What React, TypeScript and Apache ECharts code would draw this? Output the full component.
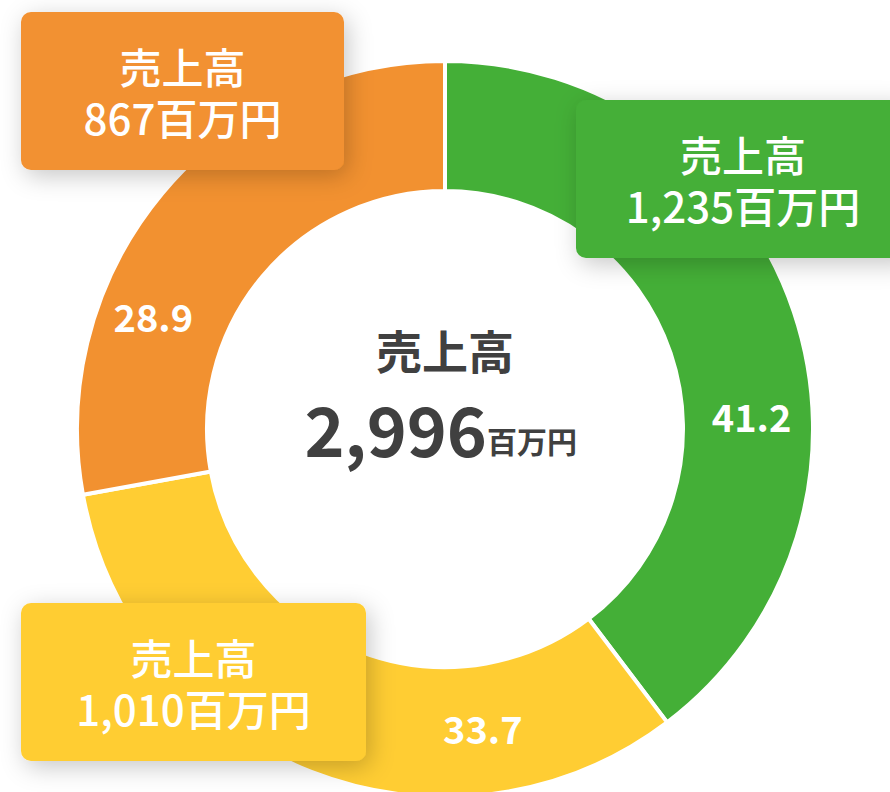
import React, { useEffect, useRef } from 'react';
import * as echarts from 'echarts';

// ---- data ----
const segmentNames = ['売上高', '売上高', '売上高'];
const salesValues = [1235, 1010, 867];
const sharePercents = [41.2, 33.7, 28.9];
const totalSales = 2996;
const centerTitle = '売上高';
const unitLabel = '百万円';

// ---- styles / layout ----
const colors = ['#44AF37', '#FFCD33', '#F29130'];
const FONT = '"Noto Sans CJK JP", "Noto Sans", sans-serif';
const CX = 445;
const CY = 429;
const R_IN = 238;
const R_OUT = 368;
const labelAngles = [87.6, 172.5, 291];
const labelRadii = [304, 298, 310];
const boxes = [
  { x: 576, y: 100, w: 334, h: 158 },
  { x: 21, y: 603, w: 345, h: 158 },
  { x: 21, y: 12, w: 323, h: 158 },
];

const fmt = (v: number) => v.toLocaleString('en-US');

export default function App() {
  const ref = useRef<HTMLDivElement>(null);
  useEffect(() => {
    document.body.style.margin = '0';
    if (!ref.current) return;
    const chart = echarts.init(ref.current, null, { renderer: 'svg' });

    const total = salesValues.reduce((a, b) => a + b, 0);
    let cum = 0;
    const rMid = (R_IN + R_OUT) / 2;
    const data = salesValues.map((v, i) => {
      const start = (cum / total) * 360;
      cum += v;
      const end = (cum / total) * 360;
      const mid = ((start + end) / 2) * Math.PI / 180;
      const t = labelAngles[i] * Math.PI / 180;
      const rl = labelRadii[i];
      const offset = [
        rl * Math.sin(t) - rMid * Math.sin(mid),
        -rl * Math.cos(t) + rMid * Math.cos(mid),
      ];
      return {
        name: segmentNames[i],
        value: v,
        itemStyle: { color: colors[i] },
        label: { offset },
      };
    });

    const boxText = (x: number, y: number, text: string) => ({
      type: 'text',
      z: 101,
      x,
      y,
      style: {
        text,
        fill: '#fff',
        fontSize: 42,
        fontWeight: 500,
        fontFamily: FONT,
        lineHeight: 46,
        align: 'center',
        verticalAlign: 'middle',
      },
    });

    const boxGraphics: any[] = boxes.map((b, i) => ({
      type: 'group',
      z: 100,
      children: [
        {
          type: 'rect',
          z: 100,
          shape: { x: b.x, y: b.y, width: b.w, height: b.h, r: 10 },
          style: {
            fill: colors[i],
            shadowBlur: 24,
            shadowColor: 'rgba(0,0,0,0.22)',
            shadowOffsetX: 4,
            shadowOffsetY: 6,
          },
        },
        boxText(b.x + b.w / 2, b.y + b.h / 2 - 25.5, segmentNames[i]),
        boxText(b.x + b.w / 2, b.y + b.h / 2 + 25.5, fmt(salesValues[i]) + unitLabel),
      ],
    }));

    chart.setOption({
      animation: false,
      backgroundColor: '#fff',
      series: [
        {
          type: 'pie',
          center: [CX, CY],
          radius: [R_IN, R_OUT],
          startAngle: 90,
          clockwise: true,
          avoidLabelOverlap: false,
          itemStyle: { borderColor: '#fff', borderWidth: 4 },
          label: {
            show: true,
            position: 'inside',
            rotate: 0,
            color: '#fff',
            fontSize: 38,
            fontWeight: 'bold',
            fontFamily: FONT,
            formatter: (p: any) => sharePercents[p.dataIndex].toFixed(1),
          },
          labelLine: { show: false },
          emphasis: { disabled: true },
          data,
        },
      ],
      graphic: [
        {
          type: 'text',
          z: 50,
          x: CX,
          y: 349,
          style: {
            text: centerTitle,
            fill: '#404040',
            fontSize: 46,
            fontWeight: 'bold',
            fontFamily: FONT,
            align: 'center',
            verticalAlign: 'middle',
          },
        },
        {
          type: 'text',
          z: 50,
          x: 487,
          y: 427,
          style: {
            text: fmt(totalSales),
            fill: '#404040',
            fontSize: 68,
            fontWeight: 'bold',
            fontFamily: FONT,
            align: 'right',
            verticalAlign: 'middle',
          },
        },
        {
          type: 'text',
          z: 50,
          x: 487,
          y: 440,
          style: {
            text: unitLabel,
            fill: '#404040',
            fontSize: 30,
            fontWeight: 'bold',
            fontFamily: FONT,
            align: 'left',
            verticalAlign: 'middle',
          },
        },
        ...boxGraphics,
      ],
    });
    return () => chart.dispose();
  }, []);
  return <div ref={ref} style={{ width: 890, height: 792 }} />;
}
